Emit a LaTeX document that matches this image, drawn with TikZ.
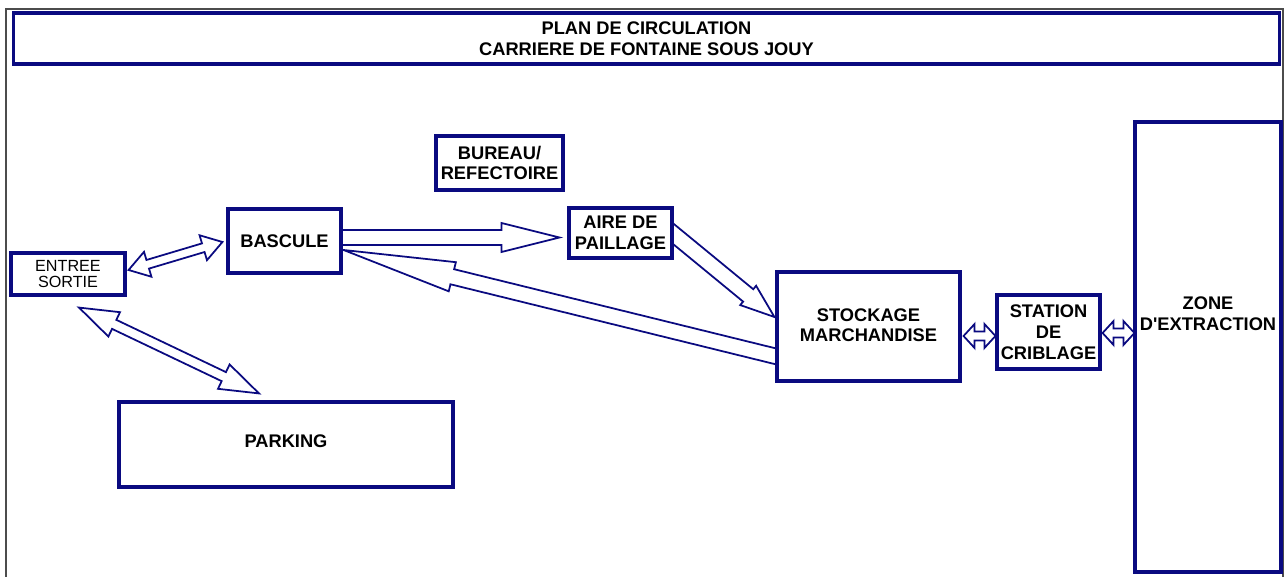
\documentclass[tikz,border=0pt]{standalone}
\usepackage{fontspec}
\setmainfont{Liberation Sans}
\usetikzlibrary{calc,backgrounds}
\definecolor{marine}{RGB}{10,10,128}

% block arrows: #1 tail, #2 tip, #3 half shaft, #4 half head, #5 head length
\newcommand{\flecheun}[5]{%
  \coordinate (hb) at ($(#2)!#5!(#1)$);
  \draw[fleche] ($(#1)!#3!90:(#2)$) -- ($(hb)!#3!90:(#2)$) -- ($(hb)!#4!90:(#2)$) -- (#2)
    -- ($(hb)!#4!-90:(#2)$) -- ($(hb)!#3!-90:(#2)$) -- ($(#1)!#3!-90:(#2)$) -- cycle;
}
\newcommand{\flechedeux}[5]{%
  \coordinate (ha) at ($(#1)!#5!(#2)$);
  \coordinate (hb) at ($(#2)!#5!(#1)$);
  \draw[fleche] (#1) -- ($(ha)!#4!90:(#2)$) -- ($(ha)!#3!90:(#2)$) -- ($(hb)!#3!90:(#2)$)
    -- ($(hb)!#4!90:(#2)$) -- (#2) -- ($(hb)!#4!-90:(#2)$) -- ($(hb)!#3!-90:(#2)$)
    -- ($(ha)!#3!-90:(#2)$) -- ($(ha)!#4!-90:(#2)$) -- cycle;
}

\begin{document}
\begin{tikzpicture}[x=0.02cm, y=-0.02cm,
    boite/.style={draw=marine, line width=1.8pt, fill=white, align=center, inner sep=0pt,
      font=\bfseries\fontsize{10.4}{11.8}\selectfont},
    fleche/.style={draw=marine, line width=1pt, fill=white, line join=miter}]

        \useasboundingbox (0, 0) rectangle (1288, 577);
        \draw[black!70, line width=1.2pt] (6, 590) -- (6, 9) -- (1283, 9) -- (1283, 590);

        \node[boite, minimum width=25.34cm, minimum height=1.02cm] (titre) at (646.5, 38.5) {\raisebox{-1.7pt}{PLAN DE CIRCULATION}\\\raisebox{-1.7pt}{CARRIERE DE FONTAINE SOUS JOUY}};
        \node[boite, minimum width=2.54cm, minimum height=1.08cm] (bureau) at (499.5, 163) {BUREAU/\\REFECTOIRE};
        \node[boite, minimum width=2.26cm, minimum height=1.28cm] (bascule) at (284.5, 241) {BASCULE};
        \node[boite, minimum width=2.28cm, minimum height=0.84cm, font=\fontsize{9.2}{9.4}\selectfont] (entree) at (68, 274) {ENTREE\\SORTIE};
        \node[boite, minimum width=2.06cm, minimum height=1.0cm] (aire) at (620.5, 233) {AIRE DE\\PAILLAGE};
        \node[boite, minimum width=3.66cm, minimum height=2.18cm] (stockage) at (868.5, 326.5) {\raisebox{1.5pt}{STOCKAGE}\\\raisebox{1.5pt}{MARCHANDISE}};
        \node[boite, minimum width=2.06cm, minimum height=1.48cm] (station) at (1048.5, 332) {STATION\\DE\\CRIBLAGE};
        \node[boite, minimum width=2.92cm, minimum height=9.0cm] (zone) at (1208, 347) {};
        \node[align=center, font=\bfseries\fontsize{10.4}{11.8}\selectfont] (zonetxt) at (1208, 314) {ZONE\\D\textquotesingle EXTRACTION};
        \node[boite, minimum width=6.68cm, minimum height=1.7cm] (parking) at (286, 444.5) {\raisebox{3.5pt}{PARKING}};

        % ends of the arrows
        \coordinate (e1) at ($(entree.east)+(2, -4)$);
        \coordinate (b1) at ($(bascule.west)+(-4, 1)$);
        \coordinate (e2) at ($(entree.south)+(11, 11)$);
        \coordinate (p1) at ($(parking.north)+(-27, -7)$);
        \coordinate (b2) at ($(bascule.east)+(-5, -3.5)$);
        \coordinate (a1) at ($(aire.west)+(-8, 4.5)$);
        \coordinate (a2) at ($(aire.east)+(-5, -3)$);
        \coordinate (s1) at ($(stockage.west)+(-1, -9.5)$);
        \coordinate (s2) at ($(stockage.west)+(7, 31.5)$);
        \coordinate (b3) at ($(bascule.east)+(1, 9)$);
        \coordinate (s3) at ($(stockage.east)+(2, 9.5)$);
        \coordinate (c1) at ($(station.west)+(0, 4)$);
        \coordinate (c2) at ($(station.east)+(1, 1)$);
        \coordinate (z1) at ($(zone.west)+(1, -14)$);

        \begin{scope}[on background layer]
        \flechedeux{e1}{b1}{0.09cm}{0.26cm}{0.40cm}
        \flechedeux{e2}{p1}{0.10cm}{0.27cm}{0.78cm}
        \flecheun{b2}{a1}{0.15cm}{0.29cm}{1.16cm}
        \flecheun{a2}{s1}{0.16cm}{0.25cm}{0.68cm}
        \flecheun{s2}{b3}{0.155cm}{0.30cm}{2.24cm}
        \flechedeux{s3}{c1}{0.09cm}{0.24cm}{0.22cm}
        \flechedeux{c2}{z1}{0.09cm}{0.24cm}{0.22cm}
        \end{scope}

\end{tikzpicture}
\end{document}
